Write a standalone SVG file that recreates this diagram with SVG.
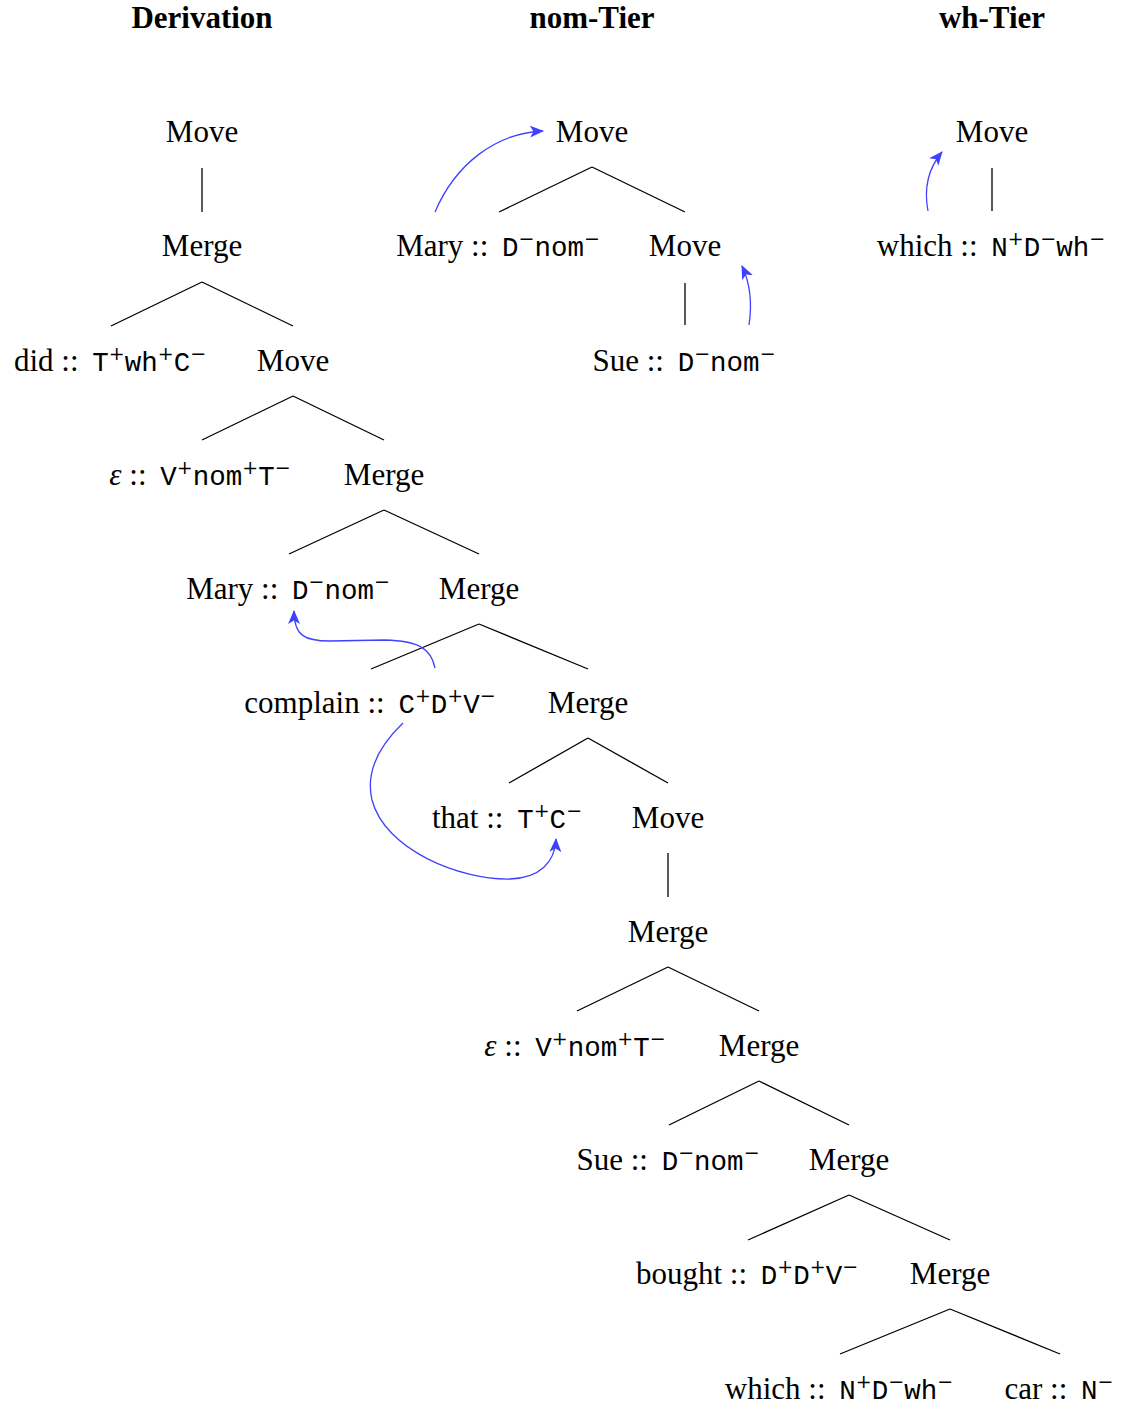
<svg xmlns="http://www.w3.org/2000/svg" width="1121" height="1406" viewBox="0 0 1121 1406">
<style>
text{font-family:"Liberation Serif","Times New Roman",serif;font-size:31px;fill:#000;text-anchor:middle}
.h{font-weight:bold}
.m{font-family:"Liberation Mono","Courier New",monospace;font-size:27.5px}
.s{font-family:"DejaVu Serif","Liberation Serif",serif;font-size:19px}
.e{font-style:italic}
.edge line{stroke:#000;stroke-width:1.3}
.mv path{fill:none;stroke:#4040ff;stroke-width:1.3;marker-end:url(#ah)}
</style>
<defs>
<marker id="ah" viewBox="0 0 14 12" refX="13" refY="6" markerWidth="14" markerHeight="12" markerUnits="userSpaceOnUse" orient="auto">
<path d="M0,0 L14,6 L0,12 L3.5,6 Z" fill="#4040ff"/>
</marker>
</defs>
<rect width="1121" height="1406" fill="#fff"/>

<g id="headers">
<text class="h" x="202" y="28">Derivation</text>
<text class="h" x="592" y="28">nom-Tier</text>
<text class="h" x="992" y="28">wh-Tier</text>
</g>

<g id="connectors" class="edge">
<line x1="202" y1="168" x2="202" y2="212"/>
<line x1="202" y1="282" x2="111" y2="326"/>
<line x1="202" y1="282" x2="293" y2="326"/>
<line x1="293" y1="396" x2="202" y2="440"/>
<line x1="293" y1="396" x2="384" y2="440"/>
<line x1="384" y1="510" x2="289" y2="554"/>
<line x1="384" y1="510" x2="479" y2="554"/>
<line x1="479" y1="624" x2="371" y2="669"/>
<line x1="479" y1="624" x2="588" y2="669"/>
<line x1="588" y1="738" x2="509" y2="783"/>
<line x1="588" y1="738" x2="668" y2="783"/>
<line x1="668" y1="853" x2="668" y2="897"/>
<line x1="668" y1="967" x2="577" y2="1011"/>
<line x1="668" y1="967" x2="759" y2="1011"/>
<line x1="759" y1="1081" x2="669" y2="1125"/>
<line x1="759" y1="1081" x2="849" y2="1125"/>
<line x1="849" y1="1195" x2="748" y2="1240"/>
<line x1="849" y1="1195" x2="950" y2="1240"/>
<line x1="950" y1="1309" x2="840" y2="1354"/>
<line x1="950" y1="1309" x2="1060" y2="1354"/>
<line x1="592" y1="167" x2="499" y2="212"/>
<line x1="592" y1="167" x2="685" y2="212"/>
<line x1="685" y1="283" x2="685" y2="325"/>
<line x1="992" y1="168" x2="992" y2="211"/>
</g>

<g id="movement" class="mv">
<path d="M435,212 C455,165 495,133 543,131"/>
<path d="M749,325 C752,305 751,285 742,266"/>
<path d="M928,211 C924,190 927,170 942,152"/>
<path d="M435,668 C431,648 418,641 385,640 L330,641 C305,641 294,636 294,611"/>
<path d="M403,723 C380,745 365,770 372,800 C385,850 460,880 510,879 C540,878 555,862 556,839"/>
</g>

<g id="d-move1"><text x="202" y="142">Move</text></g>
<g id="d-merge1"><text x="202" y="256">Merge</text></g>
<g id="d-did"><text x="110" y="371">did :: <tspan class="m" dx="6">T</tspan><tspan class="s" dy="-11">+</tspan><tspan class="m" dy="11">wh</tspan><tspan class="s" dy="-11">+</tspan><tspan class="m" dy="11">C</tspan><tspan class="s" dy="-11">−</tspan></text></g>
<g id="d-move2"><text x="293" y="371">Move</text></g>
<g id="d-eps1"><text x="200" y="485"><tspan class="e">ε</tspan> :: <tspan class="m" dx="6">V</tspan><tspan class="s" dy="-11">+</tspan><tspan class="m" dy="11">nom</tspan><tspan class="s" dy="-11">+</tspan><tspan class="m" dy="11">T</tspan><tspan class="s" dy="-11">−</tspan></text></g>
<g id="d-merge2"><text x="384" y="485">Merge</text></g>
<g id="d-mary"><text x="288" y="599">Mary :: <tspan class="m" dx="6">D</tspan><tspan class="s" dy="-11">−</tspan><tspan class="m" dy="11">nom</tspan><tspan class="s" dy="-11">−</tspan></text></g>
<g id="d-merge3"><text x="479" y="599">Merge</text></g>
<g id="d-complain"><text x="370" y="713">complain :: <tspan class="m" dx="6">C</tspan><tspan class="s" dy="-11">+</tspan><tspan class="m" dy="11">D</tspan><tspan class="s" dy="-11">+</tspan><tspan class="m" dy="11">V</tspan><tspan class="s" dy="-11">−</tspan></text></g>
<g id="d-merge4"><text x="588" y="713">Merge</text></g>
<g id="d-that"><text x="507" y="828">that :: <tspan class="m" dx="6">T</tspan><tspan class="s" dy="-11">+</tspan><tspan class="m" dy="11">C</tspan><tspan class="s" dy="-11">−</tspan></text></g>
<g id="d-move3"><text x="668" y="828">Move</text></g>
<g id="d-merge5"><text x="668" y="942">Merge</text></g>
<g id="d-eps2"><text x="575" y="1056"><tspan class="e">ε</tspan> :: <tspan class="m" dx="6">V</tspan><tspan class="s" dy="-11">+</tspan><tspan class="m" dy="11">nom</tspan><tspan class="s" dy="-11">+</tspan><tspan class="m" dy="11">T</tspan><tspan class="s" dy="-11">−</tspan></text></g>
<g id="d-merge6"><text x="759" y="1056">Merge</text></g>
<g id="d-sue"><text x="668" y="1170">Sue :: <tspan class="m" dx="6">D</tspan><tspan class="s" dy="-11">−</tspan><tspan class="m" dy="11">nom</tspan><tspan class="s" dy="-11">−</tspan></text></g>
<g id="d-merge7"><text x="849" y="1170">Merge</text></g>
<g id="d-bought"><text x="747" y="1284">bought :: <tspan class="m" dx="6">D</tspan><tspan class="s" dy="-11">+</tspan><tspan class="m" dy="11">D</tspan><tspan class="s" dy="-11">+</tspan><tspan class="m" dy="11">V</tspan><tspan class="s" dy="-11">−</tspan></text></g>
<g id="d-merge8"><text x="950" y="1284">Merge</text></g>
<g id="d-which"><text x="839" y="1399">which :: <tspan class="m" dx="6">N</tspan><tspan class="s" dy="-11">+</tspan><tspan class="m" dy="11">D</tspan><tspan class="s" dy="-11">−</tspan><tspan class="m" dy="11">wh</tspan><tspan class="s" dy="-11">−</tspan></text></g>
<g id="d-car"><text x="1059" y="1399">car :: <tspan class="m" dx="6">N</tspan><tspan class="s" dy="-11">−</tspan></text></g>

<g id="n-move1"><text x="592" y="142">Move</text></g>
<g id="n-mary"><text x="498" y="256">Mary :: <tspan class="m" dx="6">D</tspan><tspan class="s" dy="-11">−</tspan><tspan class="m" dy="11">nom</tspan><tspan class="s" dy="-11">−</tspan></text></g>
<g id="n-move2"><text x="685" y="256">Move</text></g>
<g id="n-sue"><text x="684" y="371">Sue :: <tspan class="m" dx="6">D</tspan><tspan class="s" dy="-11">−</tspan><tspan class="m" dy="11">nom</tspan><tspan class="s" dy="-11">−</tspan></text></g>

<g id="w-move"><text x="992" y="142">Move</text></g>
<g id="w-which"><text x="991" y="256">which :: <tspan class="m" dx="6">N</tspan><tspan class="s" dy="-11">+</tspan><tspan class="m" dy="11">D</tspan><tspan class="s" dy="-11">−</tspan><tspan class="m" dy="11">wh</tspan><tspan class="s" dy="-11">−</tspan></text></g>
</svg>
